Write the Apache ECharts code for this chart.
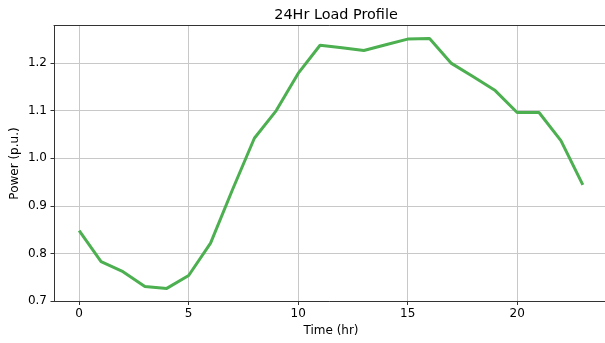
<!DOCTYPE html>
<html lang="en">
<head>
	<meta charset="utf-8">
	<title>24Hr Load Profile</title>
	<style>
		html, body { margin: 0; padding: 0; background: #fff; }
		#main { width: 605px; height: 343px; }
	</style>
</head>
<body>
	<div id="main"></div>
	<script type="text/javascript" src="https://cdn.jsdelivr.net/npm/echarts@6/dist/echarts.min.js"></script>
	<script type="text/javascript">
		// data
		var hours = [0, 1, 2, 3, 4, 5, 6, 7, 8, 9, 10, 11, 12, 13, 14, 15, 16, 17, 18, 19, 20, 21, 22, 23];
		var power = [0.848, 0.783, 0.762, 0.731, 0.727, 0.754, 0.822, 0.934, 1.042, 1.100, 1.178, 1.237,
			1.232, 1.226, 1.238, 1.250, 1.251, 1.199, 1.171, 1.142, 1.096, 1.096, 1.037, 0.944];
		var xTicks = [0, 5, 10, 15, 20];
		var yTicks = [0.7, 0.8, 0.9, 1.0, 1.1, 1.2];

		var points = [];
		for (var i = 0; i < hours.length; i++) {
			points.push([hours[i], power[i]]);
		}

		var font = 'DejaVu Sans';
		var myChart = echarts.init(document.getElementById('main'), null, { renderer: 'canvas' });

		myChart.setOption({
			animation: false,
			backgroundColor: '#fff',
			title: {
				text: '24Hr Load Profile',
				left: 331,
				top: 3,
				textAlign: 'center',
				textStyle: { fontFamily: font, fontSize: 14.4, fontWeight: 'normal', color: '#000' }
			},
			grid: {
				left: 54,
				right: -3,
				top: 25.5,
				bottom: 41.5,
				outerBoundsMode: 'none',
				containLabel: false,
				show: false
			},
			xAxis: [
				{
					type: 'value',
					position: 'bottom',
					min: -1.15,
					max: 24.15,
					name: 'Time (hr)',
					nameLocation: 'middle',
					nameGap: 21,
					nameTextStyle: { fontFamily: font, fontSize: 12, color: '#000' },
					axisLine: { show: true, onZero: false, lineStyle: { color: '#333', width: 1 } },
					axisTick: { show: true, length: 3.5, customValues: xTicks, lineStyle: { color: '#333' } },
					axisLabel: { customValues: xTicks, margin: 6, fontFamily: font, fontSize: 12, color: '#000' },
					splitLine: { show: true, lineStyle: { color: '#c8c8c8', width: 1 } }
				},
				{
					// top spine only
					type: 'value',
					position: 'top',
					min: -1.15,
					max: 24.15,
					axisLine: { show: true, onZero: false, lineStyle: { color: '#333', width: 1 } },
					axisTick: { show: false },
					axisLabel: { show: false },
					splitLine: { show: false }
				}
			],
			yAxis: {
				type: 'value',
				min: 0.6995,
				max: 1.2785,
				name: 'Power (p.u.)',
				nameLocation: 'middle',
				nameGap: 33,
				nameMoveOverlap: false,
				nameTextStyle: { fontFamily: font, fontSize: 12, color: '#000' },
				axisLine: { show: true, onZero: false, lineStyle: { color: '#333', width: 1 } },
				axisTick: { show: true, length: 3.5, customValues: yTicks, lineStyle: { color: '#333' } },
				axisLabel: {
					customValues: yTicks,
					margin: 7,
					fontFamily: font,
					fontSize: 12,
					color: '#000',
					formatter: function (v) { return v.toFixed(1); }
				},
				splitLine: { show: true, lineStyle: { color: '#c8c8c8', width: 1 } }
			},
			series: [
				{
					type: 'line',
					data: points,
					showSymbol: false,
					lineStyle: { color: '#4caf50', width: 3 },
					itemStyle: { color: '#4caf50' }
				}
			]
		});
	</script>
</body>
</html>
